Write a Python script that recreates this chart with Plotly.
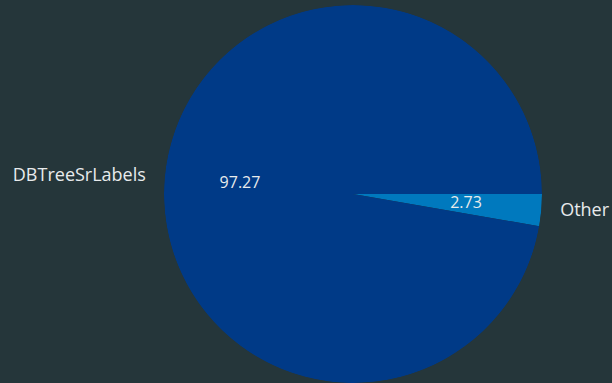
import numpy as np
import plotly.graph_objects as go

# Share of labels by source, in drawing order (clockwise from 3 o'clock)
categories = ["Other", "DBTreeSrLabels"]
shares = [2.73, 97.27]
slice_colors = ["#0079be", "#003a87"]

bg = "#25363a"
text_color = "#e8ebec"
font_family = "'Open Sans', Lato, sans-serif"

# Wedge geometry in degrees, derived from the shares
vals = np.array(shares)
widths = vals / vals.sum() * 360.0
starts = np.concatenate([[0.0], np.cumsum(widths)[:-1]])
mids = starts + widths / 2.0

# Category names sit just outside the rim, values inside each wedge
label_r = 1.1
value_r = 0.6
mid_rad = np.deg2rad(-mids)  # clockwise -> negative math angle
label_x = label_r * np.cos(mid_rad)
label_y = label_r * np.sin(mid_rad)
label_pos = ["middle right" if x >= 0 else "middle left" for x in label_x]

fig = go.Figure()

# The pie itself: one full-radius polar bar per category
fig.add_trace(go.Barpolar(
    r=[1.0] * len(categories),
    theta=mids,
    width=widths,
    base=0,
    marker=dict(color=slice_colors, line=dict(width=0)),
    customdata=categories,
    text=[f"{v:.2f}" for v in shares],
    hovertemplate="%{customdata}: %{text}<extra></extra>",
    showlegend=False,
))

# Values inside the wedges
fig.add_trace(go.Scatterpolar(
    r=[value_r] * len(categories),
    theta=mids,
    mode="text",
    text=[f"{v:.2f}" for v in shares],
    textposition="middle center",
    textfont=dict(color=text_color, size=16, family=font_family),
    cliponaxis=False,
    hoverinfo="skip",
    showlegend=False,
))

# Category names outside the rim, on a cartesian frame measured in pie radii
fig.add_trace(go.Scatter(
    x=label_x,
    y=label_y,
    mode="text",
    text=categories,
    textposition=label_pos,
    textfont=dict(color=text_color, size=18, family=font_family),
    cliponaxis=False,
    hoverinfo="skip",
    showlegend=False,
))

W, H = 612, 383
cx, cy, rad = 353, 194, 189
hidden = dict(visible=False, showgrid=False, zeroline=False, fixedrange=True)
fig.update_layout(
    width=W,
    height=H,
    paper_bgcolor=bg,
    plot_bgcolor=bg,
    margin=dict(l=0, r=0, t=0, b=0),
    font=dict(family=font_family, color=text_color),
    xaxis=dict(range=[(0 - cx) / rad, (W - cx) / rad], domain=[0, 1], **hidden),
    yaxis=dict(range=[-(H - cy) / rad, cy / rad], domain=[0, 1], **hidden),
    polar=dict(
        domain=dict(
            x=[(cx - rad) / W, (cx + rad) / W],
            y=[1 - (cy + rad) / H, 1 - (cy - rad) / H],
        ),
        bgcolor="rgba(0,0,0,0)",
        hole=0,
        angularaxis=dict(rotation=0, direction="clockwise", visible=False,
                         showgrid=False, showline=False, showticklabels=False, ticks=""),
        radialaxis=dict(range=[0, 1], visible=False, showgrid=False,
                        showline=False, showticklabels=False, ticks=""),
    ),
)

fig.write_html("out.html")
